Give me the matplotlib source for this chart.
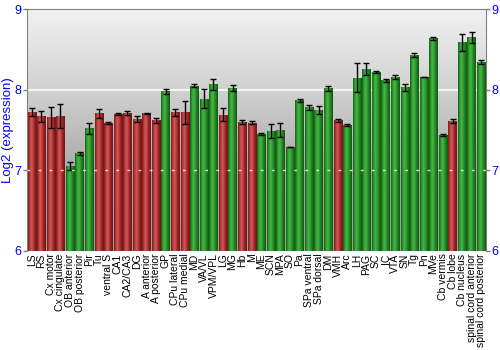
import numpy as np
import matplotlib
matplotlib.use("Agg")
import matplotlib.pyplot as plt
from matplotlib.colors import LinearSegmentedColormap

plt.rcParams["font.family"] = ["Liberation Sans", "DejaVu Sans"]

regions = [
    "LS", "RS", "Cx motor", "Cx cingulate", "OB anterior", "OB posterior", "Pir",
    "Tu", "ventral S", "CA1", "CA2/CA3", "DG", "A anterior", "A posterior", "GP",
    "CPu lateral", "CPu medial", "MD", "VA/VL", "VPM/VPL", "LG", "MG", "Hb", "M",
    "ME", "SCN", "MPA", "SO", "Pa", "SPa ventral", "SPa dorsal", "DM", "VMH",
    "Arc", "LH", "PAG", "SC", "IC", "VTA", "SN", "Tg", "Pn", "MVe", "Cb vermis",
    "Cb lobe", "Cb nucleus", "spinal cord anterior", "spinal cord posterior",
]
values = [
    7.72, 7.67, 7.66, 7.67, 7.05, 7.21, 7.52,
    7.71, 7.59, 7.70, 7.71, 7.64, 7.71, 7.62, 7.98,
    7.72, 7.72, 8.05, 7.89, 8.07, 7.69, 8.02, 7.60, 7.59,
    7.45, 7.49, 7.50, 7.29, 7.87, 7.78, 7.75, 8.02, 7.62,
    7.56, 8.15, 8.26, 8.22, 8.12, 8.16, 8.03, 8.43, 8.16, 8.64, 7.44,
    7.61, 8.59, 8.65, 8.35,
]
errors = [
    0.05, 0.07, 0.13, 0.15, 0.05, 0.02, 0.07,
    0.055, 0.015, 0.01, 0.025, 0.035, 0.005, 0.035, 0.03,
    0.045, 0.14, 0.02, 0.12, 0.07, 0.08, 0.04, 0.02, 0.02,
    0.01, 0.09, 0.09, 0.005, 0.02, 0.03, 0.05, 0.03, 0.02,
    0.01, 0.18, 0.07, 0.015, 0.02, 0.02, 0.045, 0.025, 0.005, 0.02, 0.01,
    0.025, 0.11, 0.07, 0.025,
]
red_regions = [
    "LS", "RS", "Cx motor", "Cx cingulate", "Tu", "ventral S", "CA1", "CA2/CA3",
    "DG", "A anterior", "A posterior", "CPu lateral", "CPu medial", "LG", "Hb",
    "M", "VMH", "Cb lobe",
]

red_cmap = LinearSegmentedColormap.from_list(
    "red", ["#7a1818", "#b83a3a", "#d25a5a", "#b83838", "#8a2020", "#6e1515"])
green_cmap = LinearSegmentedColormap.from_list(
    "green", ["#166016", "#2f9a2f", "#48b848", "#2e9a2e", "#1e781e", "#125412"])

fig = plt.figure(figsize=(5, 3.5), dpi=100)
ax = fig.add_axes([0.054, 0.284, 0.918, 0.689])

# background gradient
bg = np.linspace(0, 1, 256).reshape(-1, 1)
bg_cmap = LinearSegmentedColormap.from_list(
    "bg", [(0, "#f2f2f2"), (0.35, "#cfcfcf"), (0.7, "#a6a6a6"), (1, "#a0a0a0")])
ax.imshow(bg, cmap=bg_cmap, aspect="auto", extent=(-0.5, len(regions) - 0.5, 6, 9),
          origin="upper", zorder=0)

ax.axhline(8, color="white", linewidth=1.5, alpha=0.8, zorder=1)

grad = np.linspace(0, 1, 64).reshape(1, -1)
width = 0.88
for i, (name, v) in enumerate(zip(regions, values)):
    cmap = red_cmap if name in red_regions else green_cmap
    ax.imshow(grad, cmap=cmap, aspect="auto",
              extent=(i - width / 2, i + width / 2, 6, v), zorder=2)

ax.errorbar(range(len(regions)), values, yerr=errors, fmt="none",
            ecolor="black", elinewidth=1, capsize=2, capthick=1, zorder=3)

ax.axhline(7, color="white", linewidth=1, linestyle=(0, (2, 6)), alpha=0.8, zorder=4)

ax.set_xlim(-0.5, len(regions) - 0.5)
ax.set_ylim(6, 9)
ax.set_yticks([6, 7, 8, 9])
ax.tick_params(axis="y", colors="#808080", labelcolor="blue", labelsize=9,
               length=3, width=1, pad=1, right=True, labelright=True)
ax.set_xticks(range(len(regions)))
ax.set_xticklabels(regions, rotation=90, fontsize=7.5, color="black")
ax.tick_params(axis="x", length=0, pad=2)
ax.set_ylabel("Log2 (expression)", color="blue", fontsize=9.5)
ax.yaxis.set_label_coords(-0.029, 0.5)

for side in ["left", "right", "top"]:
    ax.spines[side].set_color("#808080")
ax.spines["bottom"].set_visible(False)

fig.savefig("out.png", dpi=100)
